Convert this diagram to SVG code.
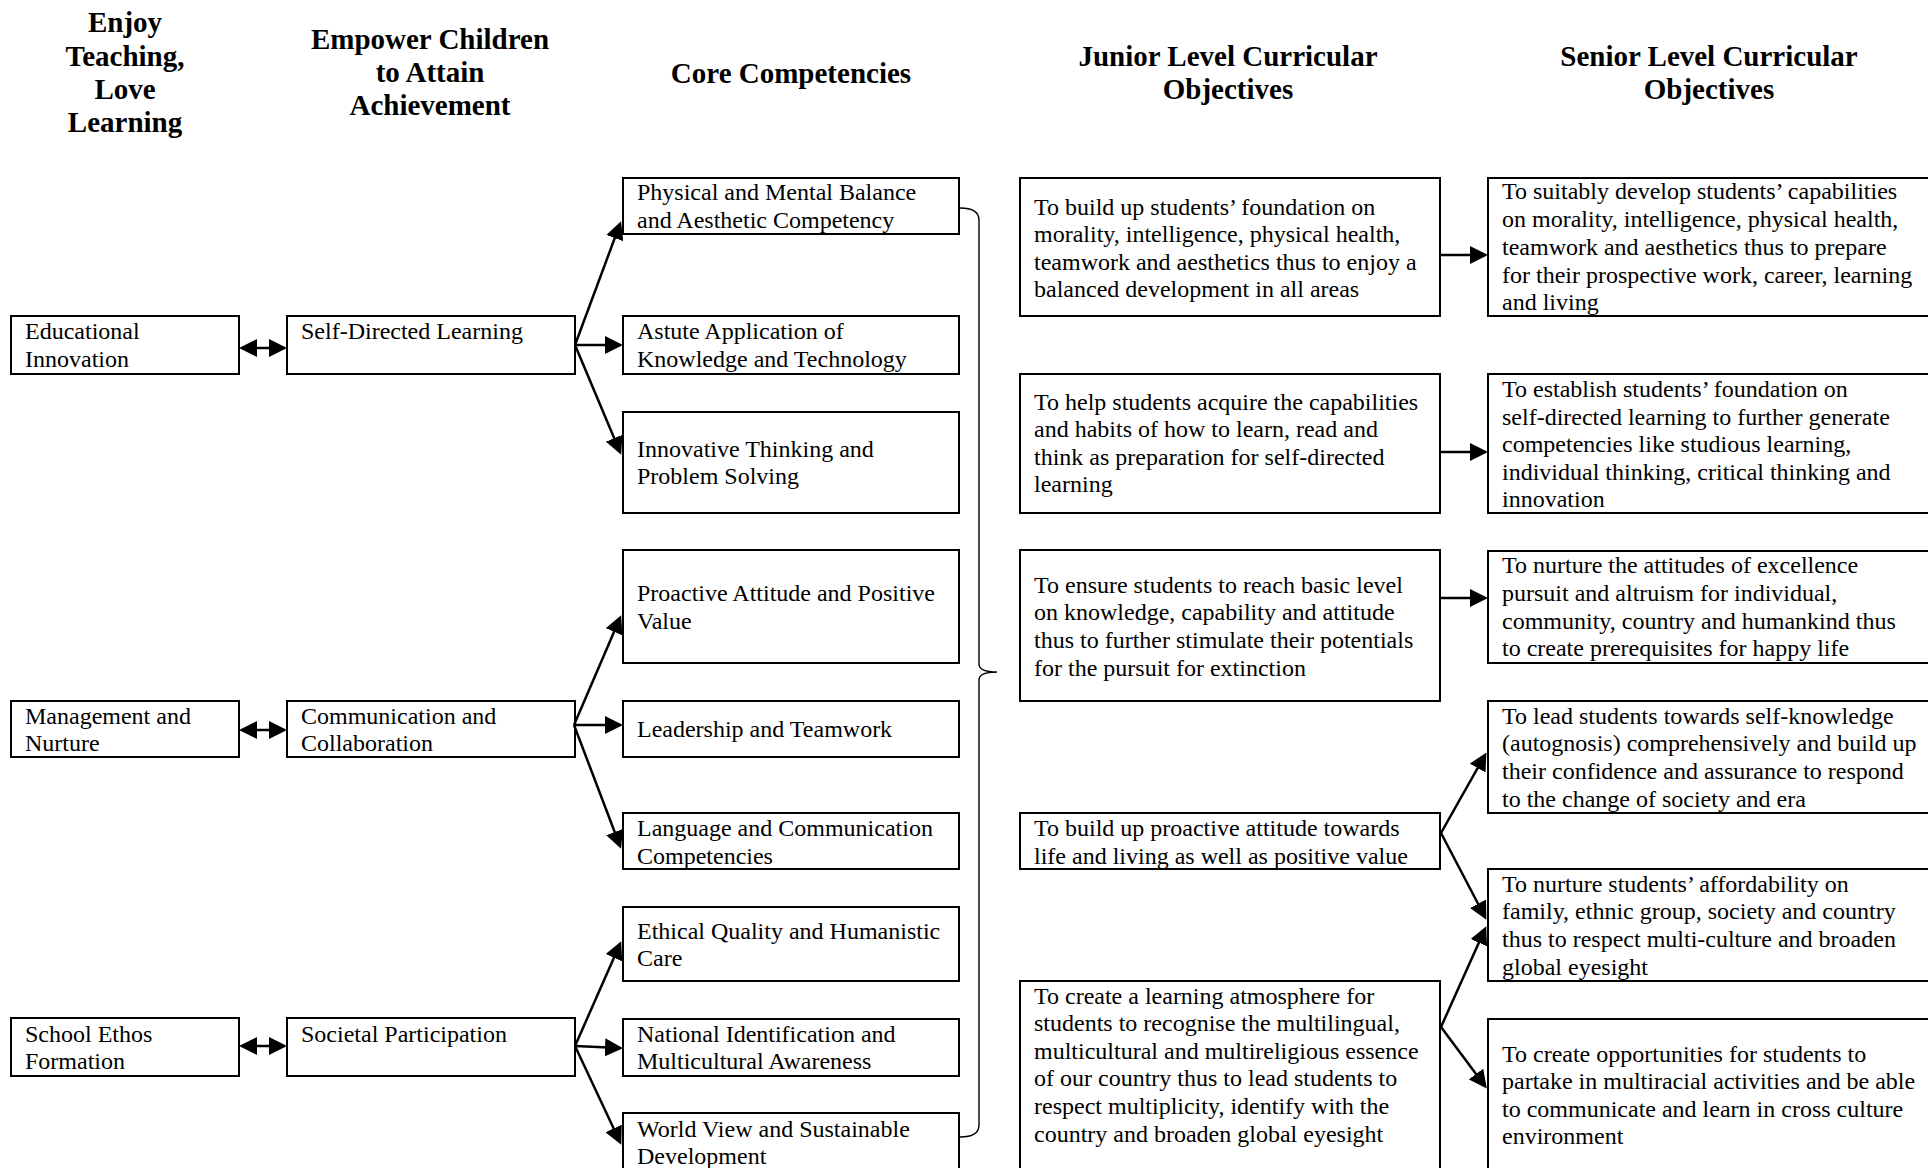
<svg xmlns="http://www.w3.org/2000/svg" width="1928" height="1168" viewBox="0 0 1928 1168">
<style>
  .box { fill: #ffffff; stroke: #000000; stroke-width: 2; }
  .t { font-family: "Liberation Serif", "Times New Roman", serif; font-size: 24px; fill: #000000; }
  .h { font-family: "Liberation Serif", "Times New Roman", serif; font-size: 29px; font-weight: bold; fill: #000000; text-anchor: middle; }
  .c { fill: none; stroke: #000000; stroke-width: 2.5; }
  .brace { fill: none; stroke: #000000; stroke-width: 1.4; }
</style>
<defs>
  <marker id="ah" markerUnits="userSpaceOnUse" markerWidth="18" markerHeight="18" viewBox="0 0 18 18" refX="15" refY="9" orient="auto-start-reverse">
    <path d="M0,0 L18,9 L0,18 z" fill="#000000"/>
  </marker>
</defs>
<rect width="1928" height="1168" fill="#ffffff"/>

<g id="headers">
  <text class="h" x="125" y="32">Enjoy</text>
  <text class="h" x="125" y="65.5">Teaching,</text>
  <text class="h" x="125" y="99">Love</text>
  <text class="h" x="125" y="132.3">Learning</text>
  <text class="h" x="430" y="48.5">Empower Children</text>
  <text class="h" x="430" y="82">to Attain</text>
  <text class="h" x="430" y="115">Achievement</text>
  <text class="h" x="791" y="82.7">Core Competencies</text>
  <text class="h" x="1228" y="65.5">Junior Level Curricular</text>
  <text class="h" x="1228" y="99">Objectives</text>
  <text class="h" x="1709" y="65.5">Senior Level Curricular</text>
  <text class="h" x="1709" y="99">Objectives</text>
</g>

<g id="educational-innovation">
  <rect class="box" x="11" y="316" width="228" height="58"/>
  <text class="t" x="25" y="339">Educational</text>
  <text class="t" x="25" y="367">Innovation</text>
</g>
<g id="management-nurture">
  <rect class="box" x="11" y="701" width="228" height="56"/>
  <text class="t" x="25" y="724">Management and</text>
  <text class="t" x="25" y="751">Nurture</text>
</g>
<g id="school-ethos">
  <rect class="box" x="11" y="1018" width="228" height="58"/>
  <text class="t" x="25" y="1042">School Ethos</text>
  <text class="t" x="25" y="1069">Formation</text>
</g>

<g id="self-directed">
  <rect class="box" x="287" y="316" width="288" height="58"/>
  <text class="t" x="301" y="339">Self-Directed Learning</text>
</g>
<g id="communication">
  <rect class="box" x="287" y="701" width="288" height="56"/>
  <text class="t" x="301" y="724">Communication and</text>
  <text class="t" x="301" y="751">Collaboration</text>
</g>
<g id="societal">
  <rect class="box" x="287" y="1018" width="288" height="58"/>
  <text class="t" x="301" y="1042">Societal Participation</text>
</g>

<g id="physical">
  <rect class="box" x="623" y="178" width="336" height="56"/>
  <text class="t" x="637" y="200">Physical and Mental Balance</text>
  <text class="t" x="637" y="228">and Aesthetic Competency</text>
</g>
<g id="astute">
  <rect class="box" x="623" y="316" width="336" height="58"/>
  <text class="t" x="637" y="339">Astute Application of</text>
  <text class="t" x="637" y="367">Knowledge and Technology</text>
</g>
<g id="innovative">
  <rect class="box" x="623" y="412" width="336" height="101"/>
  <text class="t" x="637" y="457">Innovative Thinking and</text>
  <text class="t" x="637" y="484">Problem Solving</text>
</g>
<g id="proactive">
  <rect class="box" x="623" y="550" width="336" height="113"/>
  <text class="t" x="637" y="601">Proactive Attitude and Positive</text>
  <text class="t" x="637" y="629">Value</text>
</g>
<g id="leadership">
  <rect class="box" x="623" y="701" width="336" height="56"/>
  <text class="t" x="637" y="737">Leadership and Teamwork</text>
</g>
<g id="language">
  <rect class="box" x="623" y="813" width="336" height="56"/>
  <text class="t" x="637" y="836">Language and Communication</text>
  <text class="t" x="637" y="864">Competencies</text>
</g>
<g id="ethical">
  <rect class="box" x="623" y="907" width="336" height="74"/>
  <text class="t" x="637" y="939">Ethical Quality and Humanistic</text>
  <text class="t" x="637" y="966">Care</text>
</g>
<g id="national">
  <rect class="box" x="623" y="1019" width="336" height="57"/>
  <text class="t" x="637" y="1042">National Identification and</text>
  <text class="t" x="637" y="1069">Multicultural Awareness</text>
</g>
<g id="world-view">
  <rect class="box" x="623" y="1113" width="336" height="70"/>
  <text class="t" x="637" y="1137">World View and Sustainable</text>
  <text class="t" x="637" y="1164">Development</text>
</g>

<g id="junior-1">
  <rect class="box" x="1020" y="178" width="420" height="138"/>
  <text class="t" x="1034" y="215">To build up students’ foundation on</text>
  <text class="t" x="1034" y="242">morality, intelligence, physical health,</text>
  <text class="t" x="1034" y="270">teamwork and aesthetics thus to enjoy a</text>
  <text class="t" x="1034" y="297">balanced development in all areas</text>
</g>
<g id="junior-2">
  <rect class="box" x="1020" y="374" width="420" height="139"/>
  <text class="t" x="1034" y="410">To help students acquire the capabilities</text>
  <text class="t" x="1034" y="437">and habits of how to learn, read and</text>
  <text class="t" x="1034" y="465">think as preparation for self-directed</text>
  <text class="t" x="1034" y="492">learning</text>
</g>
<g id="junior-3">
  <rect class="box" x="1020" y="550" width="420" height="151"/>
  <text class="t" x="1034" y="593">To ensure students to reach basic level</text>
  <text class="t" x="1034" y="620">on knowledge, capability and attitude</text>
  <text class="t" x="1034" y="648">thus to further stimulate their potentials</text>
  <text class="t" x="1034" y="676">for the pursuit for extinction</text>
</g>
<g id="junior-4">
  <rect class="box" x="1020" y="813" width="420" height="56"/>
  <text class="t" x="1034" y="836">To build up proactive attitude towards</text>
  <text class="t" x="1034" y="864">life and living as well as positive value</text>
</g>
<g id="junior-5">
  <rect class="box" x="1020" y="981" width="420" height="200"/>
  <text class="t" x="1034" y="1004">To create a learning atmosphere for</text>
  <text class="t" x="1034" y="1031">students to recognise the multilingual,</text>
  <text class="t" x="1034" y="1059">multicultural and multireligious essence</text>
  <text class="t" x="1034" y="1086">of our country thus to lead students to</text>
  <text class="t" x="1034" y="1114">respect multiplicity, identify with the</text>
  <text class="t" x="1034" y="1142">country and broaden global eyesight</text>
</g>

<g id="senior-1">
  <rect class="box" x="1488" y="178" width="450" height="138"/>
  <text class="t" x="1502" y="199">To suitably develop students’ capabilities</text>
  <text class="t" x="1502" y="227">on morality, intelligence, physical health,</text>
  <text class="t" x="1502" y="255">teamwork and aesthetics thus to prepare</text>
  <text class="t" x="1502" y="283">for their prospective work, career, learning</text>
  <text class="t" x="1502" y="310">and living</text>
</g>
<g id="senior-2">
  <rect class="box" x="1488" y="374" width="450" height="139"/>
  <text class="t" x="1502" y="397">To establish students’ foundation on</text>
  <text class="t" x="1502" y="425">self-directed learning to further generate</text>
  <text class="t" x="1502" y="452">competencies like studious learning,</text>
  <text class="t" x="1502" y="480">individual thinking, critical thinking and</text>
  <text class="t" x="1502" y="507">innovation</text>
</g>
<g id="senior-3">
  <rect class="box" x="1488" y="551" width="450" height="112"/>
  <text class="t" x="1502" y="573">To nurture the attitudes of excellence</text>
  <text class="t" x="1502" y="601">pursuit and altruism for individual,</text>
  <text class="t" x="1502" y="629">community, country and humankind thus</text>
  <text class="t" x="1502" y="656">to create prerequisites for happy life</text>
</g>
<g id="senior-4">
  <rect class="box" x="1488" y="701" width="450" height="112"/>
  <text class="t" x="1502" y="724">To lead students towards self-knowledge</text>
  <text class="t" x="1502" y="751">(autognosis) comprehensively and build up</text>
  <text class="t" x="1502" y="779">their confidence and assurance to respond</text>
  <text class="t" x="1502" y="807">to the change of society and era</text>
</g>
<g id="senior-5">
  <rect class="box" x="1488" y="869" width="450" height="112"/>
  <text class="t" x="1502" y="892">To nurture students’ affordability on</text>
  <text class="t" x="1502" y="919">family, ethnic group, society and country</text>
  <text class="t" x="1502" y="947">thus to respect multi-culture and broaden</text>
  <text class="t" x="1502" y="975">global eyesight</text>
</g>
<g id="senior-6">
  <rect class="box" x="1488" y="1019" width="450" height="160"/>
  <text class="t" x="1502" y="1062">To create opportunities for students to</text>
  <text class="t" x="1502" y="1089">partake in multiracial activities and be able</text>
  <text class="t" x="1502" y="1117">to communicate and learn in cross culture</text>
  <text class="t" x="1502" y="1144">environment</text>
</g>

<g id="connectors">
  <line class="c" x1="242" y1="348" x2="284" y2="348" marker-start="url(#ah)" marker-end="url(#ah)"/>
  <line class="c" x1="242" y1="730" x2="284" y2="730" marker-start="url(#ah)" marker-end="url(#ah)"/>
  <line class="c" x1="242" y1="1046" x2="284" y2="1046" marker-start="url(#ah)" marker-end="url(#ah)"/>

  <line class="c" x1="575" y1="345" x2="620" y2="224" marker-end="url(#ah)"/>
  <line class="c" x1="575" y1="345" x2="620" y2="345" marker-end="url(#ah)"/>
  <line class="c" x1="575" y1="345" x2="620" y2="452" marker-end="url(#ah)"/>

  <line class="c" x1="574" y1="725" x2="620" y2="618" marker-end="url(#ah)"/>
  <line class="c" x1="574" y1="725" x2="620" y2="725" marker-end="url(#ah)"/>
  <line class="c" x1="574" y1="725" x2="620" y2="846" marker-end="url(#ah)"/>

  <line class="c" x1="575" y1="1046" x2="620" y2="944" marker-end="url(#ah)"/>
  <line class="c" x1="575" y1="1046" x2="620" y2="1048" marker-end="url(#ah)"/>
  <line class="c" x1="575" y1="1046" x2="620" y2="1142" marker-end="url(#ah)"/>

  <path class="brace" d="M960,208 Q979,208 979,220 L979,664 Q979,672 997,672 Q979,672 979,680 L979,1125 Q979,1137 960,1137"/>

  <line class="c" x1="1441" y1="255" x2="1485" y2="255" marker-end="url(#ah)"/>
  <line class="c" x1="1441" y1="452" x2="1485" y2="452" marker-end="url(#ah)"/>
  <line class="c" x1="1441" y1="598" x2="1485" y2="598" marker-end="url(#ah)"/>

  <line class="c" x1="1441" y1="833" x2="1485" y2="755" marker-end="url(#ah)"/>
  <line class="c" x1="1441" y1="833" x2="1485" y2="917" marker-end="url(#ah)"/>
  <line class="c" x1="1441" y1="1027" x2="1485" y2="929" marker-end="url(#ah)"/>
  <line class="c" x1="1441" y1="1027" x2="1485" y2="1086" marker-end="url(#ah)"/>
</g>
</svg>
